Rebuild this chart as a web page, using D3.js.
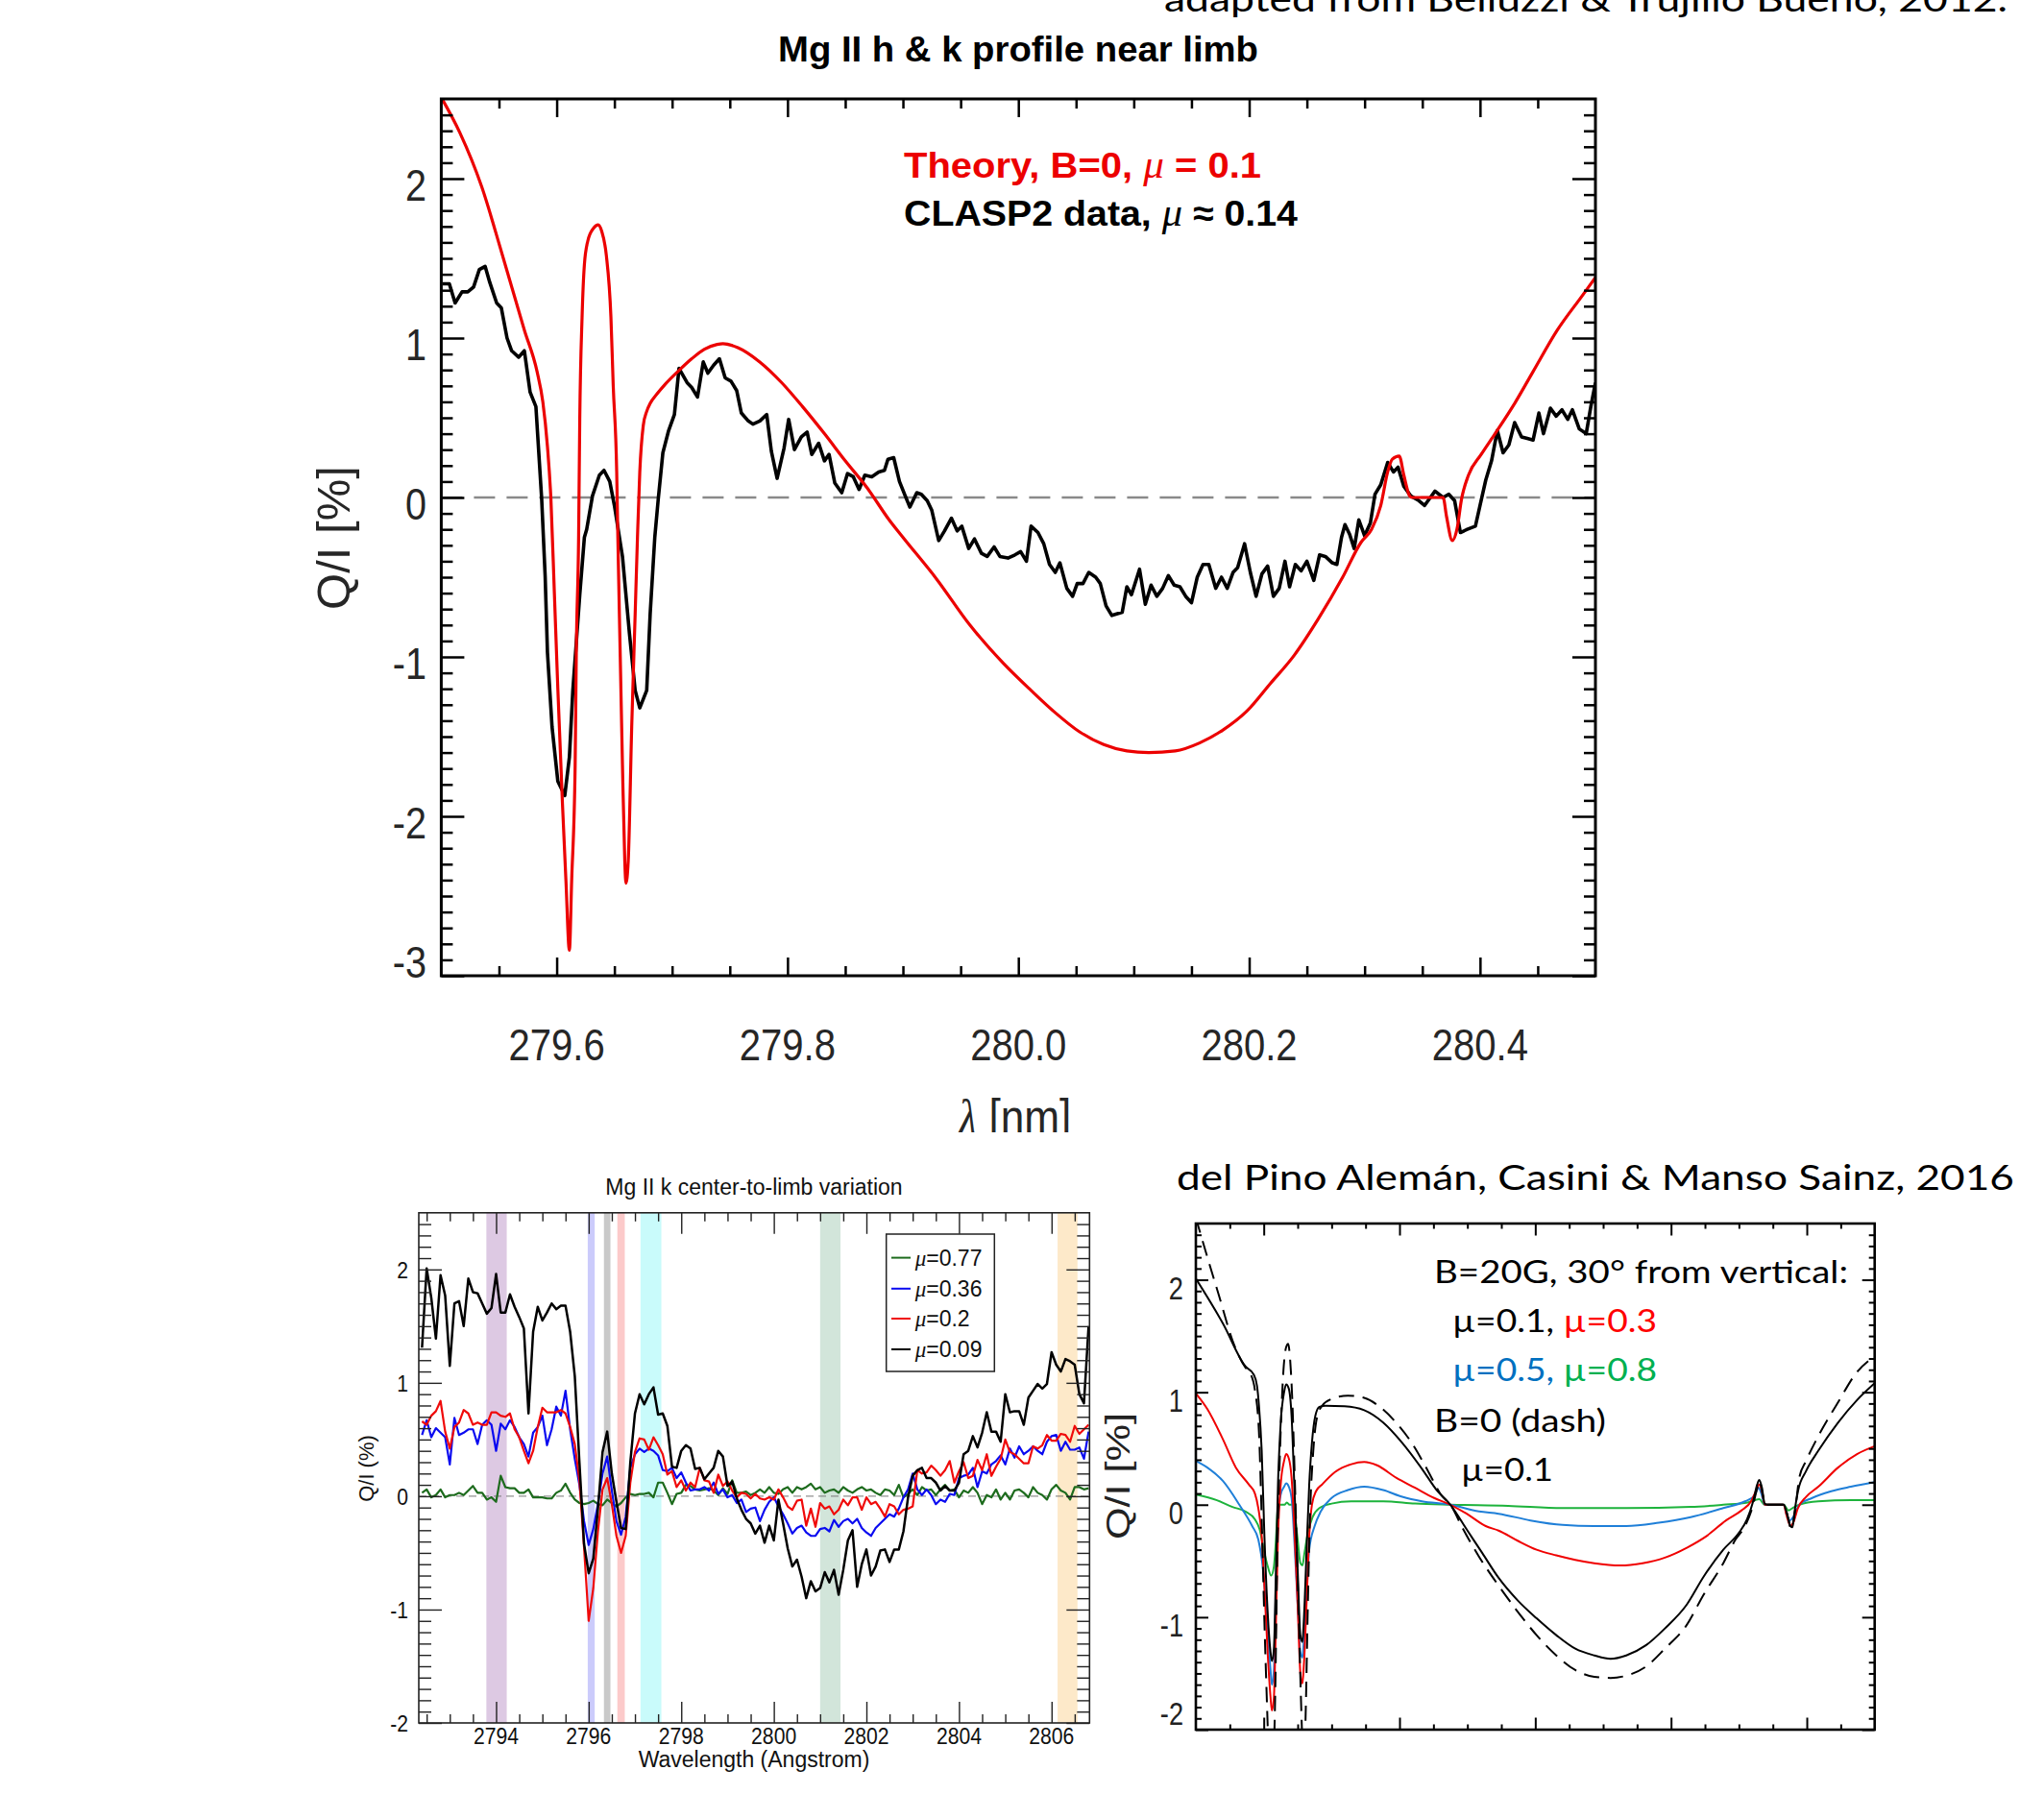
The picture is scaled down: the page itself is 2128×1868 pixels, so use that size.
<!DOCTYPE html>
<html><head><meta charset="utf-8">
<script src="https://cdn.jsdelivr.net/npm/d3@7"></script>
<style>body{margin:0;background:#fff}svg{display:block}</style>
</head><body>
<svg id="c" width="2128" height="1868"></svg>
<script>
// ---------------- DATA ----------------
// Main panel: Mg II h & k profile near limb (wavelength nm, Q/I %)
const theoryWave = [279.500,279.516,279.535,279.553,279.572,279.583,279.588,279.592,279.595,279.598,279.601,279.605,279.608,279.611,279.613,279.616,279.617,279.619,279.620,279.622,279.624,279.627,279.632,279.636,279.639,279.643,279.647,279.649,279.652,279.653,279.655,279.657,279.659,279.660,279.662,279.665,279.668,279.670,279.672,279.675,279.678,279.681,279.687,279.694,279.705,279.717,279.728,279.739,279.744,279.757,279.776,279.795,279.813,279.832,279.850,279.869,279.888,279.900,279.929,279.958,279.987,280.011,280.032,280.053,280.074,280.094,280.113,280.136,280.157,280.177,280.198,280.218,280.239,280.260,280.281,280.297,280.306,280.314,280.320,280.324,280.330,280.334,280.339,280.341,280.368,280.371,280.376,280.380,280.384,280.390,280.401,280.413,280.430,280.446,280.467,280.488,280.500];
const theoryQI = [2.51,2.29,1.95,1.52,1.05,0.79,0.60,0.32,-0.01,-0.60,-1.20,-1.92,-2.40,-2.84,-2.40,-1.68,-0.97,-0.25,0.49,1.13,1.46,1.61,1.69,1.71,1.67,1.52,1.13,0.70,0.16,-0.25,-0.97,-1.68,-2.28,-2.42,-2.28,-1.44,-0.73,-0.25,0.16,0.45,0.54,0.59,0.65,0.71,0.79,0.87,0.93,0.96,0.965,0.94,0.85,0.72,0.57,0.40,0.23,0.06,-0.14,-0.25,-0.51,-0.80,-1.04,-1.21,-1.35,-1.47,-1.55,-1.59,-1.60,-1.59,-1.54,-1.46,-1.34,-1.17,-0.99,-0.76,-0.50,-0.28,-0.20,-0.05,0.16,0.24,0.26,0.14,0.01,0.00,0.00,-0.12,-0.27,-0.20,-0.01,0.14,0.27,0.40,0.59,0.79,1.05,1.26,1.38];

const claspWave = [279.501,279.507,279.512,279.518,279.523,279.528,279.533,279.538,279.542,279.548,279.552,279.557,279.561,279.567,279.572,279.577,279.582,279.587,279.590,279.592,279.596,279.601,279.607,279.611,279.614,279.620,279.624,279.626,279.631,279.637,279.641,279.646,279.650,279.657,279.663,279.668,279.672,279.678,279.681,279.685,279.688,279.692,279.697,279.702,279.706,279.713,279.717,279.722,279.727,279.731,279.736,279.741,279.746,279.751,279.756,279.760,279.766,279.770,279.776,279.782,279.786,279.791,279.797,279.801,279.806,279.812,279.817,279.821,279.827,279.832,279.836,279.841,279.847,279.852,279.857,279.862,279.867,279.873,279.879,279.884,279.887,279.892,279.897,279.902,279.906,279.912,279.916,279.921,279.925,279.931,279.936,279.942,279.947,279.951,279.957,279.962,279.968,279.973,279.979,279.984,279.991,279.997,280.002,280.007,280.011,280.017,280.022,280.027,280.032,280.036,280.042,280.047,280.051,280.056,280.061,280.067,280.071,280.076,280.081,280.090,280.094,280.098,280.105,280.110,280.115,280.120,280.125,280.130,280.135,280.140,280.145,280.150,280.155,280.160,280.165,280.171,280.176,280.181,280.186,280.190,280.196,280.201,280.206,280.211,280.216,280.221,280.226,280.231,280.235,280.240,280.245,280.250,280.256,280.261,280.266,280.272,280.276,280.280,280.283,280.287,280.291,280.295,280.300,280.305,280.309,280.314,280.320,280.325,280.329,280.334,280.340,280.347,280.352,280.357,280.361,280.368,280.373,280.378,280.383,280.389,280.396,280.400,280.405,280.410,280.415,280.420,280.425,280.430,280.436,280.441,280.446,280.451,280.455,280.461,280.466,280.471,280.476,280.480,280.486,280.492,280.496,280.500];
const claspQI = [1.34,1.34,1.22,1.29,1.29,1.32,1.43,1.45,1.35,1.22,1.19,1.00,0.92,0.88,0.92,0.66,0.57,-0.01,-0.49,-0.97,-1.44,-1.78,-1.87,-1.63,-1.21,-0.61,-0.25,-0.20,0.01,0.14,0.17,0.10,-0.05,-0.37,-0.85,-1.21,-1.32,-1.21,-0.73,-0.25,-0.01,0.28,0.42,0.52,0.81,0.72,0.69,0.63,0.85,0.78,0.83,0.87,0.75,0.73,0.67,0.53,0.48,0.46,0.48,0.52,0.29,0.12,0.31,0.49,0.30,0.38,0.41,0.27,0.34,0.23,0.27,0.09,0.03,0.15,0.13,0.05,0.14,0.13,0.16,0.17,0.24,0.25,0.10,0.01,-0.06,0.03,0.02,-0.02,-0.08,-0.27,-0.21,-0.13,-0.21,-0.18,-0.32,-0.26,-0.35,-0.37,-0.31,-0.37,-0.38,-0.36,-0.34,-0.40,-0.18,-0.22,-0.29,-0.42,-0.47,-0.41,-0.57,-0.62,-0.54,-0.54,-0.47,-0.50,-0.54,-0.68,-0.74,-0.72,-0.56,-0.61,-0.45,-0.67,-0.55,-0.62,-0.57,-0.49,-0.55,-0.56,-0.62,-0.66,-0.50,-0.42,-0.42,-0.57,-0.50,-0.57,-0.47,-0.44,-0.29,-0.47,-0.62,-0.48,-0.43,-0.62,-0.57,-0.40,-0.56,-0.42,-0.46,-0.40,-0.52,-0.36,-0.37,-0.41,-0.42,-0.25,-0.17,-0.23,-0.32,-0.14,-0.24,-0.16,0.02,0.08,0.22,0.16,0.19,0.07,0.01,-0.02,-0.05,0.00,0.04,0.00,0.02,-0.02,-0.22,-0.20,-0.18,-0.05,0.11,0.23,0.42,0.28,0.33,0.47,0.38,0.37,0.36,0.53,0.40,0.56,0.51,0.55,0.49,0.55,0.43,0.40,0.57,0.72];

const mainXTicks = [279.6,279.8,280.0,280.2,280.4];
const mainXLabels = ["279.6","279.8","280.0","280.2","280.4"];
const mainYTicks = [-3,-2,-1,0,1,2];
const mainYLabels = ["-3","-2","-1","0","1","2"];

// Bottom-left: Mg II k center-to-limb variation (Angstrom, Q/I %), sampled every 0.1 A from 2792.4
const ctlStart = 2792.4, ctlStep = 0.1;
const ctlMu = ["0.77","0.36","0.2","0.09"];
const ctlGreen = [0.03,0.06,-0.01,0.01,0.06,-0.01,0.01,0.01,0.03,0.01,0.05,0.09,0.03,0.03,-0.03,-0.01,-0.05,0.18,0.08,0.07,0.07,0.03,0.03,0.06,-0.01,-0.01,-0.01,-0.02,-0.02,0.03,0.05,0.11,0.03,-0.03,-0.06,-0.07,-0.06,-0.04,-0.07,-0.08,-0.03,-0.06,-0.09,-0.06,-0.01,0.02,0.01,0.02,0.02,0.03,-0.01,0.12,0.12,0.03,-0.07,0.02,0.03,0.10,0.09,0.06,0.05,0.06,0.07,0.05,0.01,0.07,0.02,0.14,0.03,0.03,0.04,0.01,0.03,0.06,0.03,0.08,0.03,0.02,0.06,0.08,0.03,0.08,0.06,0.08,0.11,0.06,0.08,0.03,0.05,0.06,0.03,0.08,0.05,0.03,0.06,0.08,0.05,0.06,0.03,0.01,0.06,0.05,0.01,0.10,-0.01,0.02,0.06,0.01,0.08,0.05,0.06,0.01,0.06,0.10,0.05,0.06,-0.01,0.05,0.03,0.08,0.03,-0.07,0.01,-0.01,0.06,-0.03,0.03,-0.03,0.05,0.06,0.03,-0.01,0.08,0.03,0.01,-0.03,0.06,0.10,0.05,0.03,-0.03,0.08,0.08,0.06,0.07];
const ctlBlue = [0.54,0.67,0.52,0.60,0.56,0.52,0.28,0.69,0.54,0.56,0.59,0.59,0.46,0.63,0.67,0.63,0.40,0.64,0.59,0.67,0.61,0.52,0.46,0.35,0.56,0.61,0.71,0.45,0.59,0.79,0.71,0.93,0.59,0.33,0.10,-0.22,-0.43,-0.29,-0.07,0.20,0.35,0.05,-0.22,-0.34,-0.18,0.25,0.37,0.42,0.39,0.42,0.40,0.36,0.23,0.22,0.25,0.16,0.21,0.12,0.05,0.06,0.06,0.08,0.05,0.12,0.02,0.06,-0.01,0.01,-0.06,-0.03,-0.14,-0.11,-0.10,-0.22,-0.12,-0.05,-0.01,-0.09,-0.16,-0.24,-0.33,-0.28,-0.26,-0.32,-0.35,-0.35,-0.29,-0.28,-0.31,-0.21,-0.27,-0.22,-0.20,-0.24,-0.20,-0.28,-0.32,-0.35,-0.28,-0.24,-0.20,-0.16,-0.18,-0.11,-0.01,0.06,0.20,0.06,0.01,0.06,0.01,-0.07,-0.03,-0.05,0.02,0.01,0.16,0.18,0.19,0.25,0.08,0.22,0.20,0.28,0.31,0.36,0.28,0.42,0.34,0.44,0.37,0.40,0.44,0.40,0.37,0.48,0.53,0.54,0.40,0.48,0.41,0.41,0.43,0.33,0.57];
const ctlRed = [0.66,0.63,0.71,0.75,0.84,0.57,0.42,0.61,0.65,0.76,0.73,0.63,0.65,0.63,0.63,0.74,0.74,0.71,0.70,0.73,0.59,0.52,0.40,0.29,0.40,0.61,0.78,0.74,0.74,0.74,0.76,0.73,0.61,0.46,0.14,-0.45,-1.10,-0.81,-0.31,0.06,0.16,-0.07,-0.35,-0.50,-0.35,0.12,0.39,0.51,0.50,0.41,0.52,0.45,0.37,0.19,0.22,0.08,0.14,0.05,0.12,0.08,0.25,0.14,0.13,0.03,0.19,0.09,0.13,0.05,-0.01,0.03,0.02,-0.02,0.02,-0.02,-0.03,-0.01,-0.03,0.06,-0.01,-0.09,-0.12,-0.04,-0.03,-0.26,-0.11,-0.27,-0.06,-0.11,-0.09,-0.16,-0.12,-0.03,-0.08,-0.01,-0.01,-0.12,-0.01,-0.07,-0.05,-0.11,-0.18,-0.07,-0.09,-0.16,-0.12,-0.11,-0.09,0.23,0.20,0.21,0.27,0.23,0.18,0.23,0.31,0.12,0.22,0.30,0.16,0.18,0.32,0.23,0.37,0.18,0.26,0.33,0.50,0.39,0.37,0.33,0.29,0.29,0.44,0.42,0.45,0.54,0.49,0.49,0.55,0.54,0.48,0.62,0.55,0.59,0.63];
const ctlBlack = [1.31,2.01,1.75,1.39,1.95,1.77,1.15,1.70,1.72,1.50,1.92,1.80,1.79,1.70,1.61,1.66,1.96,1.62,1.62,1.78,1.67,1.58,1.48,0.73,1.45,1.67,1.55,1.62,1.70,1.65,1.68,1.68,1.45,1.06,0.30,-0.42,-0.68,-0.55,-0.11,0.39,0.57,0.20,-0.05,-0.28,-0.29,0.30,0.73,0.90,0.81,0.90,0.96,0.72,0.73,0.62,0.26,0.25,0.40,0.45,0.42,0.24,0.25,0.15,0.20,0.25,0.40,0.35,0.09,0.13,-0.02,-0.12,-0.20,-0.24,-0.33,-0.26,-0.41,-0.26,-0.39,-0.03,-0.24,-0.46,-0.62,-0.56,-0.71,-0.90,-0.75,-0.84,-0.81,-0.67,-0.76,-0.65,-0.87,-0.65,-0.39,-0.30,-0.80,-0.60,-0.47,-0.70,-0.62,-0.48,-0.47,-0.58,-0.47,-0.47,-0.31,-0.01,0.18,0.23,0.25,0.16,0.16,0.12,0.05,0.09,0.05,0.05,0.12,0.37,0.40,0.53,0.43,0.56,0.74,0.57,0.57,0.48,0.90,0.74,0.75,0.75,0.63,0.87,0.93,0.99,0.95,0.99,1.27,1.16,1.10,1.21,1.19,1.16,0.90,0.82,1.50];
const bandStart = [2793.79,2795.98,2796.33,2796.62,2797.12,2801.00,2806.13];
const bandEnd   = [2794.23,2796.13,2796.47,2796.78,2797.57,2801.44,2806.56];
const ctlXTicks = [2794,2796,2798,2800,2802,2804,2806];
const ctlYTicks = [-2,-1,0,1,2];

// Bottom-right: del Pino Aleman et al. 2016 models (nm, Q/I %)
const dpSolid = [[279.500,2.01],[279.540,1.61],[279.573,1.23],[279.585,1.16],[279.590,1.06],[279.593,0.88],[279.597,0.48],[279.601,-0.28],[279.606,-0.98],[279.610,-1.31],[279.612,-1.39],[279.615,-1.28],[279.618,-0.58],[279.621,0.18],[279.625,0.73],[279.630,1.00],[279.633,1.07],[279.637,1.03],[279.641,0.79],[279.645,0.18],[279.650,-0.58],[279.654,-1.16],[279.657,-1.22],[279.659,-1.04],[279.663,-0.43],[279.667,0.18],[279.671,0.55],[279.676,0.79],[279.682,0.87],[279.691,0.88],[279.719,0.875],[279.748,0.84],[279.776,0.73],[279.804,0.55],[279.833,0.32],[279.856,0.12],[279.875,0.00],[279.899,-0.22],[279.922,-0.43],[279.946,-0.65],[279.974,-0.85],[280.002,-1.01],[280.031,-1.16],[280.059,-1.28],[280.087,-1.34],[280.111,-1.37],[280.134,-1.34],[280.163,-1.25],[280.191,-1.10],[280.223,-0.89],[280.248,-0.64],[280.277,-0.40],[280.300,-0.25],[280.312,-0.13],[280.321,0.03],[280.327,0.18],[280.330,0.22],[280.334,0.15],[280.338,0.01],[280.342,0.00],[280.366,0.00],[280.370,-0.06],[280.376,-0.19],[280.379,-0.20],[280.382,-0.06],[280.387,0.12],[280.399,0.30],[280.417,0.48],[280.446,0.73],[280.474,0.93],[280.500,1.08]];
const dpDash = [[279.500,2.55],[279.517,2.20],[279.535,1.84],[279.554,1.46],[279.573,1.22],[279.580,1.17],[279.587,1.02],[279.593,0.64],[279.597,-0.12],[279.601,-1.04],[279.606,-2.0],[279.611,-2.9],[279.615,-2.2],[279.617,-1.65],[279.620,-0.43],[279.624,0.48],[279.629,1.19],[279.633,1.40],[279.636,1.43],[279.639,1.28],[279.642,0.94],[279.646,0.18],[279.651,-0.89],[279.656,-1.95],[279.659,-2.45],[279.662,-1.80],[279.665,-0.89],[279.668,-0.13],[279.673,0.48],[279.679,0.79],[279.686,0.88],[279.700,0.94],[279.724,0.97],[279.748,0.95],[279.771,0.87],[279.795,0.73],[279.818,0.55],[279.842,0.30],[279.861,0.09],[279.875,0.00],[279.894,-0.22],[279.917,-0.46],[279.946,-0.72],[279.974,-0.95],[280.002,-1.16],[280.031,-1.34],[280.059,-1.47],[280.087,-1.53],[280.111,-1.54],[280.134,-1.52],[280.163,-1.44],[280.191,-1.28],[280.223,-1.07],[280.248,-0.80],[280.277,-0.52],[280.295,-0.31],[280.309,-0.19],[280.321,0.00],[280.327,0.15],[280.330,0.21],[280.335,0.09],[280.338,0.00],[280.366,0.00],[280.373,-0.13],[280.377,-0.22],[280.382,-0.09],[280.389,0.24],[280.399,0.39],[280.417,0.61],[280.446,0.91],[280.474,1.18],[280.500,1.32]];
const dpRed = [[279.500,0.99],[279.517,0.85],[279.540,0.58],[279.559,0.33],[279.578,0.18],[279.587,0.10],[279.592,-0.03],[279.597,-0.28],[279.601,-0.73],[279.606,-1.34],[279.610,-1.71],[279.612,-1.83],[279.615,-1.71],[279.618,-1.04],[279.621,-0.28],[279.625,0.18],[279.630,0.39],[279.633,0.45],[279.637,0.41],[279.641,0.24],[279.645,-0.19],[279.650,-0.89],[279.654,-1.50],[279.657,-1.59],[279.659,-1.44],[279.663,-0.89],[279.667,-0.28],[279.671,0.00],[279.677,0.12],[279.686,0.18],[279.705,0.29],[279.729,0.36],[279.748,0.38],[279.767,0.35],[279.795,0.24],[279.823,0.15],[279.851,0.06],[279.875,0.00],[279.899,-0.08],[279.927,-0.19],[279.946,-0.23],[279.974,-0.32],[280.002,-0.40],[280.031,-0.45],[280.059,-0.49],[280.087,-0.52],[280.125,-0.54],[280.158,-0.52],[280.191,-0.47],[280.224,-0.38],[280.252,-0.28],[280.281,-0.14],[280.304,-0.05],[280.318,0.03],[280.325,0.12],[280.330,0.18],[280.335,0.09],[280.338,0.00],[280.366,0.00],[280.370,-0.09],[280.376,-0.19],[280.380,-0.16],[280.387,-0.03],[280.399,0.07],[280.417,0.16],[280.446,0.33],[280.474,0.45],[280.500,0.52]];
const dpBlue = [[279.500,0.39],[279.517,0.33],[279.540,0.21],[279.564,0.00],[279.583,-0.19],[279.592,-0.31],[279.599,-0.58],[279.605,-1.04],[279.610,-1.47],[279.612,-1.60],[279.615,-1.47],[279.618,-0.73],[279.621,-0.13],[279.625,0.09],[279.630,0.16],[279.633,0.19],[279.637,0.16],[279.641,0.06],[279.645,-0.31],[279.650,-0.89],[279.654,-1.31],[279.657,-1.36],[279.659,-1.22],[279.663,-0.80],[279.667,-0.40],[279.675,-0.19],[279.684,-0.06],[279.700,0.06],[279.724,0.13],[279.748,0.16],[279.776,0.13],[279.804,0.07],[279.833,0.03],[279.875,0.00],[279.917,-0.06],[279.946,-0.08],[279.993,-0.14],[280.040,-0.18],[280.087,-0.19],[280.134,-0.19],[280.182,-0.16],[280.229,-0.11],[280.277,-0.03],[280.309,0.03],[280.323,0.08],[280.329,0.15],[280.333,0.10],[280.338,0.00],[280.366,0.00],[280.370,-0.08],[280.375,-0.14],[280.380,-0.11],[280.389,0.00],[280.408,0.06],[280.436,0.12],[280.465,0.16],[280.500,0.20]];
const dpGreen = [[279.500,0.09],[279.531,0.04],[279.554,-0.02],[279.573,-0.06],[279.587,-0.13],[279.594,-0.22],[279.600,-0.40],[279.606,-0.55],[279.611,-0.63],[279.615,-0.55],[279.618,-0.31],[279.621,-0.02],[279.625,0.00],[279.631,0.00],[279.634,0.02],[279.638,0.00],[279.642,0.00],[279.645,-0.06],[279.650,-0.31],[279.654,-0.52],[279.657,-0.54],[279.660,-0.43],[279.665,-0.25],[279.672,-0.11],[279.682,-0.03],[279.700,0.01],[279.729,0.03],[279.776,0.03],[279.823,0.01],[279.875,0.00],[279.960,-0.01],[280.040,-0.03],[280.134,-0.03],[280.229,-0.02],[280.277,0.00],[280.313,0.02],[280.330,0.05],[280.338,0.00],[280.366,0.00],[280.373,-0.05],[280.379,-0.03],[280.389,0.00],[280.417,0.03],[280.465,0.04],[280.500,0.04]];
const dpYTicks = [-2,-1,0,1,2];
const dpXMajor = [279.6,279.8,280.0,280.2,280.4];

// ---------------- HELPERS ----------------
const svg = d3.select("#c");
const SANS = "'Liberation Sans', Arial, Helvetica, sans-serif";
const SERIF = "'Liberation Serif', 'Times New Roman', serif";
const CAL = "Lato, 'Open Sans', sans-serif";

function txt(g, x, y, s, o = {}) {
  const t = g.append("text")
    .attr("transform", `translate(${x},${y})` + (o.rot ? ` rotate(${o.rot})` : "") + ` scale(${o.sx || 1},1)`)
    .attr("text-anchor", o.anchor || "start")
    .style("font-family", o.font || SANS)
    .style("font-size", (o.size || 20) + "px")
    .style("font-weight", o.weight || "normal")
    .style("font-style", o.style || "normal")
    .attr("fill", o.fill || "#000");
  if (s !== null) t.text(s);
  if (o.len) t.attr("textLength", o.len).attr("lengthAdjust", "spacingAndGlyphs");
  return t;
}
function range(a, b, s) { const r = []; for (let v = a; v <= b + 1e-9; v += s) r.push(+v.toFixed(4)); return r; }
function minor(a, b, s, majors) { return range(a, b, s).filter(v => !majors.some(m => Math.abs(m - v) < 1e-6)); }

function frameTicks(g, x, y, xMaj, xMin, yMaj, yMin, L, sw, col) {
  const [x0, x1] = x.range(), [y0, y1] = y.range();
  const mk = (axis, vals, len, tr) => {
    const a = g.append("g").attr("transform", tr)
      .call(axis.tickValues(vals).tickSize(-len).tickFormat(""));
    a.select(".domain").remove();
    a.selectAll("line").attr("stroke", col).attr("stroke-width", sw);
  };
  mk(d3.axisBottom(x), xMaj, L.xM, `translate(0,${y0})`);
  mk(d3.axisBottom(x), xMin, L.xm, `translate(0,${y0})`);
  mk(d3.axisTop(x), xMaj, L.xM, `translate(0,${y1})`);
  mk(d3.axisTop(x), xMin, L.xm, `translate(0,${y1})`);
  mk(d3.axisLeft(y), yMaj, L.yM, `translate(${x0},0)`);
  mk(d3.axisLeft(y), yMin, L.ym, `translate(${x0},0)`);
  mk(d3.axisRight(y), yMaj, L.yM, `translate(${x1},0)`);
  mk(d3.axisRight(y), yMin, L.ym, `translate(${x1},0)`);
}
function clipRect(id, x, y) {
  const [x0, x1] = x.range(), [y0, y1] = y.range();
  svg.append("clipPath").attr("id", id).append("rect")
    .attr("x", x0).attr("y", y1).attr("width", x1 - x0).attr("height", y0 - y1);
}

// ---------------- TOP TEXTS ----------------
txt(svg, 1212, 12, "adapted from Belluzzi & Trujillo Bueno, 2012.", {font: CAL, size: 36, len: 878});
txt(svg, 1060, 64, "Mg II h & k profile near limb", {anchor: "middle", size: 36, weight: "bold", len: 500});

// ---------------- MAIN PANEL ----------------
const xM = d3.scaleLinear([279.5, 280.5], [459.4, 1661]);
const yM = d3.scaleLinear([-3, 2.5], [1016, 103]);
clipRect("clipM", xM, yM);
const gM = svg.append("g");
const gMc = gM.append("g").attr("clip-path", "url(#clipM)");
gMc.append("line").attr("x1", xM(279.5)).attr("x2", xM(280.5)).attr("y1", yM(0)).attr("y2", yM(0))
  .attr("stroke", "#8a8a8a").attr("stroke-width", 2.5).attr("stroke-dasharray", "22,12");
const lineM = d3.line().x(d => xM(d[0])).y(d => yM(d[1]));
gMc.append("path").datum(claspWave.map((w, i) => [w, claspQI[i]]))
  .attr("d", lineM).attr("fill", "none").attr("stroke", "#000").attr("stroke-width", 3.6).attr("stroke-linejoin", "round");
gMc.append("path").datum(theoryWave.map((w, i) => [w, theoryQI[i]]))
  .attr("d", lineM.curve(d3.curveMonotoneX)).attr("fill", "none").attr("stroke", "#ec0000").attr("stroke-width", 3.2);
frameTicks(gM, xM, yM, mainXTicks, minor(279.55, 280.45, 0.05, mainXTicks),
  mainYTicks, minor(-2.9, 2.4, 0.1, mainYTicks), {xM: 19, xm: 10, yM: 24, ym: 12}, 2.5, "#000");
gM.append("rect").attr("x", 459.4).attr("y", 103).attr("width", 1661 - 459.4).attr("height", 1016 - 103)
  .attr("fill", "none").attr("stroke", "#000").attr("stroke-width", 3);
mainXTicks.forEach((v, i) => txt(gM, xM(v), 1104, mainXLabels[i], {anchor: "middle", size: 46, sx: 0.87, fill: "#262626"}));
mainYTicks.forEach((v, i) => txt(gM, 444, Math.min(yM(v) + 23, 1018), mainYLabels[i], {anchor: "end", size: 46, sx: 0.86, fill: "#262626"}));
txt(gM, 364, 560, "Q/I [%]", {anchor: "middle", size: 49, rot: -90, fill: "#262626"});
svg.append("clipPath").attr("id", "clipLam").append("rect").attr("x", 900).attr("y", 1120).attr("width", 320).attr("height", 59);
const lam = txt(svg.append("g").attr("clip-path", "url(#clipLam)"), 998, 1181, null, {size: 52, sx: 0.85, fill: "#262626"});
lam.append("tspan").style("font-family", SERIF).style("font-style", "italic").text("λ");
lam.append("tspan").text(" [nm]");
// legend
const l1 = txt(gM, 941, 185, null, {size: 37, weight: "bold", fill: "#ec0000", len: 372});
l1.append("tspan").text("Theory, B=0, ");
l1.append("tspan").style("font-family", SERIF).style("font-style", "italic").style("font-weight", "normal").style("font-size", "40px").text("μ");
l1.append("tspan").text(" = 0.1");
const l2 = txt(gM, 941, 235, null, {size: 37, weight: "bold", fill: "#000", len: 410});
l2.append("tspan").text("CLASP2 data, ");
l2.append("tspan").style("font-family", SERIF).style("font-style", "italic").style("font-weight", "normal").style("font-size", "40px").text("μ");
l2.append("tspan").text(" ≈ 0.14");

// ---------------- BOTTOM-LEFT PANEL ----------------
const xL = d3.scaleLinear([2792.33, 2806.82], [436, 1134.3]);
const yL = d3.scaleLinear([-2, 2.5], [1794, 1262.8]);
clipRect("clipL", xL, yL);
const gL = svg.append("g");
const gLc = gL.append("g").attr("clip-path", "url(#clipL)");
const bandColors = ["#ddc9e3", "#cbcbfb", "#c9c9c9", "#fccaca", "#c9fbfb", "#d2e5da", "#fde9c9"];
bandStart.forEach((b, i) => gLc.append("rect").attr("x", xL(b)).attr("width", xL(bandEnd[i]) - xL(b))
  .attr("y", yL(2.5)).attr("height", yL(-2) - yL(2.5)).attr("fill", bandColors[i]));
gLc.append("line").attr("x1", xL(2792.33)).attr("x2", xL(2806.82)).attr("y1", yL(0)).attr("y2", yL(0))
  .attr("stroke", "#777").attr("stroke-width", 1).attr("stroke-dasharray", "8,5");
const ctlWave = ctlBlack.map((_, i) => +(ctlStart + i * ctlStep).toFixed(2));
const lineL = d3.line().x(d => xL(d[0])).y(d => yL(d[1]));
const ctlSeries = [ctlGreen, ctlBlue, ctlRed, ctlBlack];
const ctlColors = ["#1d6b1d", "#0a0af0", "#f00a0a", "#000"];
ctlSeries.forEach((s, k) => gLc.append("path").datum(ctlWave.map((w, i) => [w, s[i]]))
  .attr("d", lineL).attr("fill", "none").attr("stroke", ctlColors[k]).attr("stroke-width", k === 3 ? 2.5 : 2.2).attr("stroke-linejoin", "round"));
frameTicks(gL, xL, yL, ctlXTicks, minor(2792.5, 2806.5, 0.5, ctlXTicks),
  ctlYTicks, minor(-1.9, 2.4, 0.1, ctlYTicks), {xM: 22, xm: 9, yM: 24, ym: 13}, 1.4, "#222");
gL.append("rect").attr("x", 436).attr("y", 1262.8).attr("width", 1134.3 - 436).attr("height", 1794 - 1262.8)
  .attr("fill", "none").attr("stroke", "#222").attr("stroke-width", 1.6);
ctlXTicks.forEach(v => txt(gL, xL(v), 1816, String(v), {anchor: "middle", size: 23, sx: 0.92, fill: "#111"}));
ctlYTicks.forEach(v => txt(gL, 425, yL(v) + 9, String(v), {anchor: "end", size: 23, sx: 0.92, fill: "#111"}));
txt(gL, 785, 1243.6, "Mg II k center-to-limb variation", {anchor: "middle", size: 23, fill: "#111"});
txt(gL, 785, 1840, "Wavelength (Angstrom)", {anchor: "middle", size: 23, fill: "#111"});
txt(gL, 389, 1529, "Q/I (%)", {anchor: "middle", size: 22, rot: -90, fill: "#111"});
gL.append("rect").attr("x", 922.7).attr("y", 1285).attr("width", 112.6).attr("height", 143)
  .attr("fill", "#fff").attr("stroke", "#222").attr("stroke-width", 1.5);
const legY = [1309.6, 1341.8, 1373, 1405];
ctlMu.forEach((m, k) => {
  gL.append("line").attr("x1", 928).attr("x2", 948).attr("y1", legY[k]).attr("y2", legY[k])
    .attr("stroke", ctlColors[k]).attr("stroke-width", 2);
  const t = txt(gL, 952.7, legY[k] + 8, null, {size: 23, fill: "#111"});
  t.append("tspan").style("font-family", SERIF).style("font-style", "italic").text("μ");
  t.append("tspan").text("=" + m);
});

// ---------------- BOTTOM-RIGHT PANEL ----------------
const xR = d3.scaleLinear([279.5, 280.5], [1245, 1951.7]);
const yR = d3.scaleLinear([-2, 2.5], [1801, 1274]);
clipRect("clipR", xR, yR);
const gR = svg.append("g");
const gRc = gR.append("g").attr("clip-path", "url(#clipR)");
const lineR = d3.line().x(d => xR(d[0])).y(d => yR(d[1])).curve(d3.curveMonotoneX);
[[dpGreen, "#1db33c"], [dpBlue, "#1f7fd8"], [dpRed, "#f00000"], [dpSolid, "#000"]].forEach(([s, c]) =>
  gRc.append("path").datum(s).attr("d", lineR).attr("fill", "none").attr("stroke", c).attr("stroke-width", 2));
gRc.append("path").datum(dpDash).attr("d", lineR).attr("fill", "none").attr("stroke", "#000")
  .attr("stroke-width", 2).attr("stroke-dasharray", "16,9");
frameTicks(gR, xR, yR, dpXMajor, minor(279.55, 280.45, 0.05, dpXMajor),
  dpYTicks, minor(-1.9, 2.4, 0.1, dpYTicks), {xM: 12.5, xm: 5.5, yM: 13, ym: 6}, 2, "#000");
gR.append("rect").attr("x", 1245).attr("y", 1274).attr("width", 1951.7 - 1245).attr("height", 1801 - 1274)
  .attr("fill", "none").attr("stroke", "#000").attr("stroke-width", 2.6);
dpYTicks.forEach(v => txt(gR, 1232, Math.min(yR(v) + 20, 1796), String(v), {anchor: "end", size: 34, sx: 0.8, fill: "#222"}));
txt(gR, 1176, 1537, "Q/I [%]", {anchor: "middle", size: 36, rot: -90, sx: 1.2, fill: "#222"});
txt(svg, 1225, 1238.5, "del Pino Alemán, Casini & Manso Sainz, 2016", {font: CAL, size: 36, len: 872});
txt(gR, 1493, 1336, "B=20G, 30° from vertical:", {font: CAL, size: 33, len: 431});
const r2 = txt(gR, 1512, 1387, null, {font: CAL, size: 33, len: 213});
r2.append("tspan").attr("fill", "#000").text("µ=0.1, ");
r2.append("tspan").attr("fill", "#ff0000").text("µ=0.3");
const r3 = txt(gR, 1512, 1438, null, {font: CAL, size: 33, len: 213});
r3.append("tspan").attr("fill", "#0070c0").text("µ=0.5, ");
r3.append("tspan").attr("fill", "#00b050").text("µ=0.8");
txt(gR, 1493, 1491, "B=0 (dash)", {font: CAL, size: 33, len: 179});
txt(gR, 1521, 1542, "µ=0.1", {font: CAL, size: 33, len: 96});
</script>
</body></html>
